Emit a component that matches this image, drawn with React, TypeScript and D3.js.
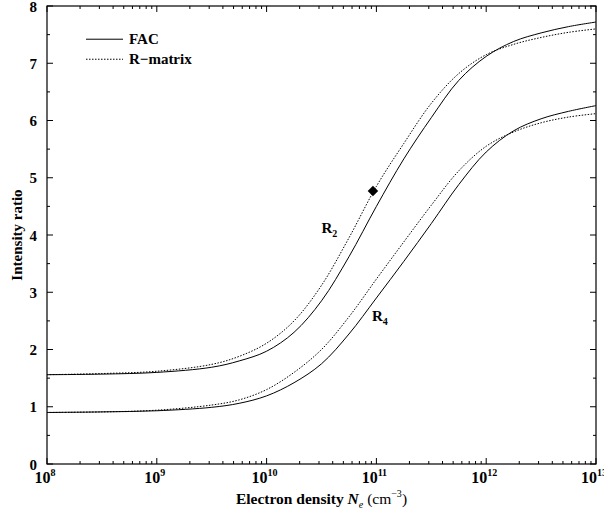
import { useEffect, useRef } from "react";
import * as d3 from "d3";

// log10 of electron density (cm^-3)
const exps = [8, 8.5, 9, 9.5, 9.75, 10, 10.25, 10.5, 10.75, 11, 11.25, 11.5, 11.75, 12, 12.25, 12.5, 12.75, 13];
const facR2 = [1.56, 1.57, 1.6, 1.69, 1.8, 1.97, 2.3, 2.85, 3.62, 4.5, 5.33, 6.05, 6.7, 7.12, 7.38, 7.53, 7.64, 7.72];
const rmR2 = [1.56, 1.58, 1.62, 1.74, 1.88, 2.11, 2.5, 3.12, 3.95, 4.85, 5.6, 6.3, 6.82, 7.15, 7.33, 7.45, 7.54, 7.6];
const facR4 = [0.9, 0.91, 0.93, 0.99, 1.06, 1.19, 1.42, 1.75, 2.27, 2.9, 3.54, 4.2, 4.88, 5.45, 5.82, 6.03, 6.16, 6.26];
const rmR4 = [0.9, 0.91, 0.94, 1.03, 1.12, 1.3, 1.6, 2.0, 2.57, 3.23, 3.88, 4.52, 5.12, 5.55, 5.8, 5.96, 6.06, 6.12];
const observed = [{ ne: 9.3e10, value: 4.77 }];
const yTicks = [0, 1, 2, 3, 4, 5, 6, 7, 8];
const xDecades = [8, 9, 10, 11, 12, 13];

const FONT = "'Liberation Serif', 'Times New Roman', serif";

function Chart({ width, height }) {
  const ref = useRef(null);

  useEffect(() => {
    document.body.style.margin = "0";
    const margin = { left: 47, top: 6, right: 8, bottom: 50 };
    const w = width - margin.left - margin.right;
    const h = height - margin.top - margin.bottom;

    const svg = d3.select(ref.current);
    svg.selectAll("*").remove();
    const g = svg.append("g").attr("transform", `translate(${margin.left},${margin.top})`);

    const x = d3.scaleLog().domain([1e8, 1e13]).range([0, w]);
    const y = d3.scaleLinear().domain([0, 8]).range([h, 0]);

    // frame
    g.append("rect")
      .attr("width", w)
      .attr("height", h)
      .attr("fill", "none")
      .attr("stroke", "#000")
      .attr("stroke-width", 1.2);

    // x ticks (inside, bottom and top)
    const xMinor = [];
    for (let d = 8; d < 13; d++) for (let k = 2; k <= 9; k++) xMinor.push(k * 10 ** d);
    const xMajor = xDecades.map((d) => 10 ** d);
    const tickG = g.append("g").attr("stroke", "#000").attr("stroke-width", 1);
    for (const v of xMajor) {
      tickG.append("line").attr("x1", x(v)).attr("x2", x(v)).attr("y1", h).attr("y2", h - 6);
      tickG.append("line").attr("x1", x(v)).attr("x2", x(v)).attr("y1", 0).attr("y2", 6);
    }
    for (const v of xMinor) {
      tickG.append("line").attr("x1", x(v)).attr("x2", x(v)).attr("y1", h).attr("y2", h - 3);
      tickG.append("line").attr("x1", x(v)).attr("x2", x(v)).attr("y1", 0).attr("y2", 3);
    }
    // y ticks (inside, left and right)
    for (let v = 0; v <= 8; v += 0.5) {
      const len = Number.isInteger(v) ? 6 : 3;
      tickG.append("line").attr("x1", 0).attr("x2", len).attr("y1", y(v)).attr("y2", y(v));
      tickG.append("line").attr("x1", w).attr("x2", w - len).attr("y1", y(v)).attr("y2", y(v));
    }

    // tick labels
    for (const t of yTicks) {
      g.append("text")
        .attr("x", -10)
        .attr("y", y(t) + 5.5)
        .attr("text-anchor", "end")
        .attr("font-family", FONT)
        .attr("font-weight", "bold")
        .attr("font-size", 15)
        .text(t);
    }
    for (const d of xDecades) {
      const t = g.append("text")
        .attr("x", x(10 ** d) - 2)
        .attr("y", h + 19)
        .attr("text-anchor", "middle")
        .attr("font-family", FONT)
        .attr("font-weight", "bold")
        .attr("font-size", 16);
      t.append("tspan").text("10");
      t.append("tspan").attr("dy", -7).attr("font-size", 10).text(d);
    }

    // axis titles
    const xt = g.append("text")
      .attr("x", w / 2)
      .attr("y", h + 40)
      .attr("text-anchor", "middle")
      .attr("font-family", FONT)
      .attr("font-size", 15.5);
    xt.append("tspan").attr("font-weight", "bold").text("Electron density ");
    xt.append("tspan").attr("font-weight", "bold").attr("font-style", "italic").text("N");
    xt.append("tspan").attr("font-style", "italic").attr("font-size", 10).attr("dy", 4).text("e");
    xt.append("tspan").attr("dy", -4).text(" (cm");
    xt.append("tspan").attr("font-size", 10).attr("dy", -7).text("\u22123");
    xt.append("tspan").attr("dy", 7).text(")");

    g.append("text")
      .attr("transform", `translate(${-25},${h / 2}) rotate(-90)`)
      .attr("text-anchor", "middle")
      .attr("font-family", FONT)
      .attr("font-weight", "bold")
      .attr("font-size", 15)
      .text("Intensity ratio");

    // curves
    const line = d3
      .line()
      .x((d) => x(10 ** d[0]))
      .y((d) => y(d[1]))
      .curve(d3.curveCatmullRom.alpha(0.5));
    const series = [
      { values: facR2, dash: null },
      { values: rmR2, dash: "1.5,1.5" },
      { values: facR4, dash: null },
      { values: rmR4, dash: "1.5,1.5" },
    ];
    for (const s of series) {
      g.append("path")
        .attr("d", line(exps.map((e, i) => [e, s.values[i]])))
        .attr("fill", "none")
        .attr("stroke", "#000")
        .attr("stroke-width", 1)
        .attr("stroke-dasharray", s.dash);
    }

    // observed point
    g.selectAll(".obs")
      .data(observed)
      .enter()
      .append("path")
      .attr("d", d3.symbol(d3.symbolDiamond2, 70)())
      .attr("transform", (d) => `translate(${x(d.ne)},${y(d.value)})`)
      .attr("fill", "#000");

    // curve labels
    const lab = (px, py, sub) => {
      const t = g.append("text")
        .attr("x", px)
        .attr("y", py)
        .attr("font-family", FONT)
        .attr("font-weight", "bold")
        .attr("font-size", 15);
      t.append("tspan").text("R");
      t.append("tspan").attr("font-size", 10).attr("dy", 4).text(sub);
    };
    lab(x(10 ** 10.5), y(4.03), "2");
    lab(x(10 ** 10.96), y(2.5), "4");

    // legend
    const leg = [
      { label: "FAC", dash: null, yv: 7.42 },
      { label: "R\u2212matrix", dash: "1.5,1.5", yv: 7.07 },
    ];
    for (const l of leg) {
      g.append("line")
        .attr("x1", 39)
        .attr("x2", 76)
        .attr("y1", y(l.yv))
        .attr("y2", y(l.yv))
        .attr("stroke", "#000")
        .attr("stroke-width", 1)
        .attr("stroke-dasharray", l.dash);
      g.append("text")
        .attr("x", 82)
        .attr("y", y(l.yv) + 5)
        .attr("font-family", FONT)
        .attr("font-weight", "bold")
        .attr("font-size", 15)
        .text(l.label);
    }
  }, [width, height]);

  return <svg ref={ref} width={width} height={height} style={{ display: "block" }} />;
}

export default function App() {
  return <Chart width={604} height={514} />;
}
